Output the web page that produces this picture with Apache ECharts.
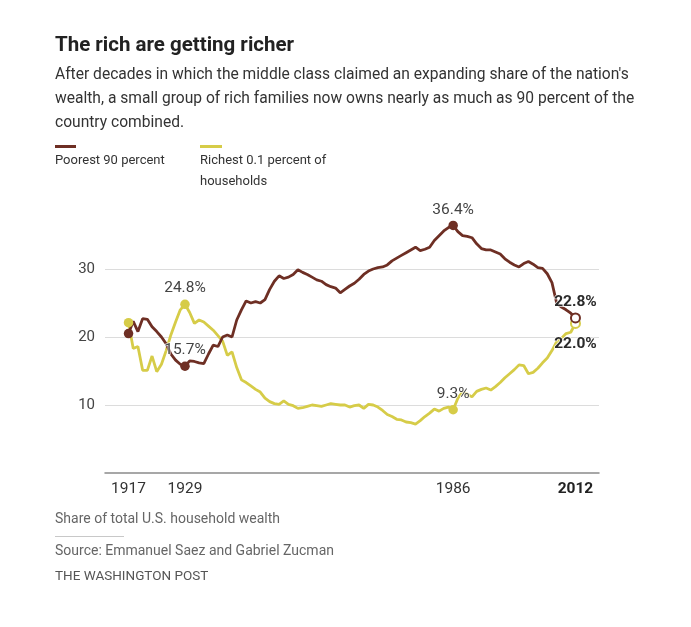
<!DOCTYPE html>
<html>
<head>
<meta charset="utf-8">
<script src="https://cdn.jsdelivr.net/npm/echarts@6/dist/echarts.min.js"></script>
<style>
html,body{margin:0;padding:0;background:#fff;}
#chart{width:691px;height:627px;}
</style>
</head>
<body>
<div id="chart"></div>
<script>
// ---- data ----
const years = [];
for (let y = 1917; y <= 2012; y++) years.push(y);

const poorest90 = [
  20.5, 22.3, 20.8, 22.7, 22.6, 21.5, 20.8, 20.0, 19.0, 17.5, // 1917-1926
  16.6, 16.0, 15.7, 16.5, 16.4, 16.2, 16.1, 17.5, 18.8, 18.6, // 1927-1936
  20.0, 20.3, 20.0, 22.5, 24.0, 25.3, 25.0, 25.2, 25.0, 25.5, // 1937-1946
  27.0, 28.2, 29.0, 28.6, 28.8, 29.2, 29.9, 29.5, 29.2, 28.8, // 1947-1956
  28.4, 28.2, 27.7, 27.4, 27.2, 26.5, 27.0, 27.5, 27.9, 28.5, // 1957-1966
  29.2, 29.7, 30.0, 30.2, 30.3, 30.6, 31.2, 31.6, 32.0, 32.4, // 1967-1976
  32.8, 33.2, 32.7, 32.9, 33.2, 34.2, 34.9, 35.6, 36.1, 36.4, // 1977-1986
  35.5, 34.9, 34.8, 34.6, 33.7, 33.0, 32.8, 32.8, 32.5, 32.2, // 1987-1996
  31.5, 31.0, 30.6, 30.3, 30.8, 31.1, 30.7, 30.2, 30.1, 29.3, // 1997-2006
  28.0, 25.0, 24.4, 24.0, 23.5, 22.8                          // 2007-2012
];

const richest01 = [
  22.1, 18.3, 18.6, 15.1, 15.1, 17.2, 14.9, 16.0, 18.0, 20.3, // 1917-1926
  22.2, 24.0, 24.8, 23.6, 22.0, 22.5, 22.2, 21.6, 21.0, 20.2, // 1927-1936
  19.4, 17.3, 17.8, 15.5, 13.7, 13.3, 12.8, 12.3, 11.9, 11.0, // 1937-1946
  10.5, 10.2, 10.1, 10.6, 10.1, 9.9, 9.5, 9.6, 9.8, 10.0,     // 1947-1956
  9.9, 9.8, 10.0, 10.2, 10.1, 10.0, 10.0, 9.7, 9.9, 10.0,     // 1957-1966
  9.5, 10.1, 10.0, 9.7, 9.2, 8.6, 8.3, 7.9, 7.8, 7.5,         // 1967-1976
  7.4, 7.2, 7.7, 8.3, 8.8, 9.4, 9.1, 9.5, 9.7, 9.3,           // 1977-1986
  11.0, 11.9, 11.6, 11.2, 12.0, 12.3, 12.5, 12.2, 12.7, 13.3, // 1987-1996
  14.0, 14.6, 15.2, 15.9, 15.8, 14.6, 14.8, 15.4, 16.2, 16.9, // 1997-2006
  18.0, 19.3, 19.8, 20.5, 20.7, 22.0                          // 2007-2012
];

const xTickYears = [1917, 1929, 1986, 2012];
const yTicks = [10, 20, 30];
const labelledYears = [1929, 1986, 2012];   // years whose values are annotated
const dotYears = [1917, 1929, 1986, 2012];

// ---- styling ----
const BROWN = '#6e2f24';
const YELLOW = '#d6cc48';
const FONT = 'Roboto, "Open Sans", sans-serif';

function pairs(vals) { return years.map((y, i) => [y, vals[i]]); }
function dots(vals, color, lastPos) {
  return dotYears.map(y => {
    const v = vals[years.indexOf(y)];
    const last = y === 2012;
    const item = {
      value: [y, v],
      itemStyle: last ? { color: '#fff', borderColor: color, borderWidth: 2, opacity: 1 }
                      : { color: color, opacity: 1 },
      symbolSize: last ? 9 : 9.5,
      label: { show: labelledYears.indexOf(y) >= 0 }
    };
    if (last) {
      item.label.position = lastPos;
      item.label.fontWeight = 'bold';
      item.label.color = '#2a2a2a';
      item.label.fontSize = 15.5;
      item.label.distance = lastPos === 'bottom' ? 7 : 2;
    }
    return item;
  });
}

const chart = echarts.init(document.getElementById('chart'), null, { renderer: 'canvas' });

const textEl = (text, x, y, size, color, weight) => ({
  type: 'text', left: x, top: y - size * 0.62,
  style: { text: text, font: (weight || 'normal') + ' ' + size + 'px ' + FONT, fill: color }
});

const pointLabel = {
  show: false, position: 'top', distance: 3, fontSize: 15.5, color: '#444',
  textBorderColor: 'rgba(255,255,255,0.85)', textBorderWidth: 1.5,
  formatter: p => p.value[1].toFixed(1) + '%'
};

chart.setOption({
  animation: false,
  backgroundColor: '#fff',
  textStyle: { fontFamily: FONT },
  grid: { left: 105, right: 92, top: 201, bottom: 154, containLabel: false },
  xAxis: {
    type: 'value', min: 1912, max: 2017,
    axisLine: { show: true, lineStyle: { color: '#8a8a8a', width: 1.5 } },
    axisTick: { show: false },
    splitLine: { show: false },
    axisLabel: {
      customValues: xTickYears,
      fontSize: 15.5, color: '#333', margin: 8,
      formatter: v => v === 2012 ? '{b|' + v + '}' : String(v),
      rich: { b: { fontWeight: 'bold', fontSize: 15.5, color: '#222' } }
    }
  },
  yAxis: {
    type: 'value', min: 0, max: 40, interval: 10,
    axisLine: { show: false },
    axisTick: { show: false },
    axisLabel: {
      fontSize: 15, color: '#444', margin: 10,
      formatter: v => yTicks.indexOf(v) >= 0 ? String(v) : ''
    },
    splitLine: { show: true, showMinLine: false, showMaxLine: false, lineStyle: { color: '#dcdcdc', width: 1 } }
  },
  series: [
    {
      name: 'Richest 0.1 percent of households', type: 'line', data: pairs(richest01),
      showSymbol: false, lineStyle: { color: YELLOW, width: 2.8 }, z: 2
    },
    {
      name: 'Poorest 90 percent', type: 'line', data: pairs(poorest90),
      showSymbol: false, lineStyle: { color: BROWN, width: 2.8 }, z: 3
    },
    {
      type: 'scatter', data: dots(richest01, YELLOW, 'bottom'), symbol: 'circle', z: 4,
      label: pointLabel
    },
    {
      type: 'scatter', data: dots(poorest90, BROWN, 'top'), symbol: 'circle', z: 5,
      label: pointLabel
    }
  ],
  graphic: [
    textEl('The rich are getting richer', 55, 48, 20.5, '#222', 'bold'),
    textEl("After decades in which the middle class claimed an expanding share of the nation's", 55, 77, 15.6, '#333'),
    textEl('wealth, a small group of rich families now owns nearly as much as 90 percent of the', 55, 101, 15.6, '#333'),
    textEl('country combined.', 55, 125, 15.6, '#333'),
    { type: 'rect', shape: { x: 55, y: 145, width: 21, height: 3 }, style: { fill: BROWN } },
    { type: 'rect', shape: { x: 200, y: 145, width: 22, height: 3 }, style: { fill: YELLOW } },
    textEl('Poorest 90 percent', 55, 162, 13, '#333'),
    textEl('Richest 0.1 percent of', 200, 162, 13, '#333'),
    textEl('households', 200, 183, 13, '#333'),
    textEl('Share of total U.S. household wealth', 55, 521, 14, '#666'),
    { type: 'rect', shape: { x: 55, y: 536, width: 69, height: 1 }, style: { fill: '#c8c8c8' } },
    textEl('Source: Emmanuel Saez and Gabriel Zucman', 55, 553, 14, '#666'),
    textEl('THE WASHINGTON POST', 55, 578, 13.5, '#555')
  ]
});
</script>
</body>
</html>
